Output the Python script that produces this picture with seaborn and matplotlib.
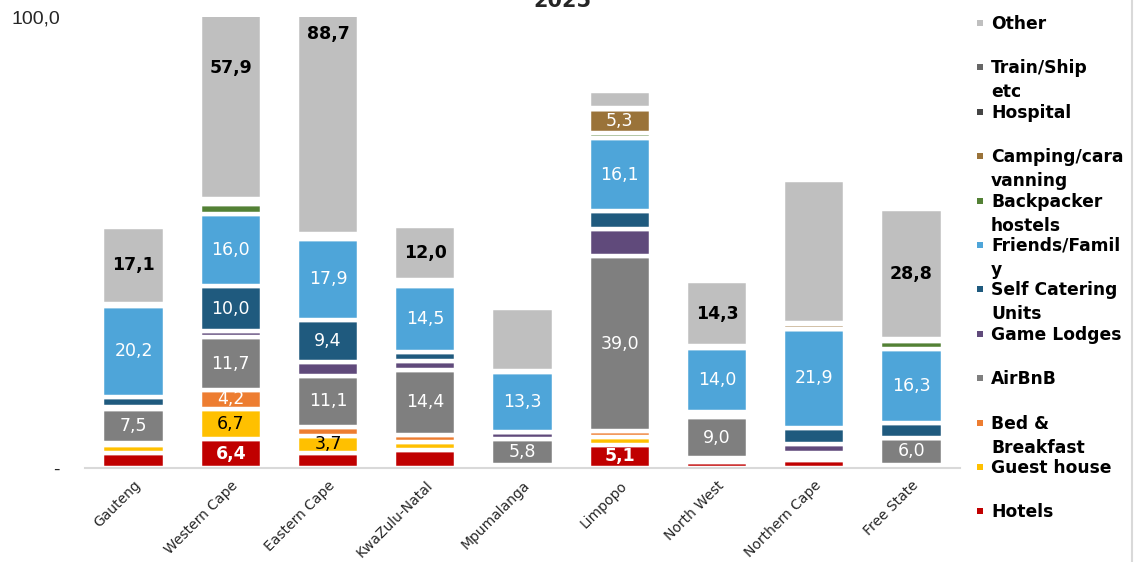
import numpy as np
import matplotlib
matplotlib.use("Agg")
import matplotlib.pyplot as plt
import matplotlib.transforms as mtransforms
from matplotlib.lines import Line2D
from matplotlib.patches import Rectangle
import seaborn as sns

# Provinces along the x axis
provinces = ["Gauteng", "Western Cape", "Eastern Cape", "KwaZulu-Natal", "Mpumalanga",
             "Limpopo", "North West", "Northern Cape", "Free State"]

# Accommodation types, stacked bottom to top
categories = ["Hotels", "Guest house", "Bed & Breakfast", "AirBnB", "Game Lodges",
              "Self Catering Units", "Friends/Family", "Backpacker hostels",
              "Camping/caravanning", "Hospital", "Train/Ship etc", "Other"]

# Share of trips per accommodation type (%), one value per province
hotels       = [3.4, 6.4, 3.4, 3.9, 0.4, 5.1, 1.3, 1.8, 0.4]
guest_house  = [1.6, 6.7, 3.7, 1.8, 0.3, 1.8, 0.5, 0.6, 0.3]
bed_bfast    = [0.6, 4.2, 2.1, 1.7, 0.0, 1.2, 0.4, 0.3, 0.0]
airbnb       = [7.5, 11.7, 11.1, 14.4, 5.8, 39.0, 9.0, 0.6, 6.0]
game_lodges  = [0.4, 1.3, 3.2, 2.0, 1.4, 6.0, 0.5, 2.0, 0.0]
self_cater   = [2.3, 10.0, 9.4, 2.0, 0.0, 3.9, 0.8, 3.6, 3.3]
friends_fam  = [20.2, 16.0, 17.9, 14.5, 13.3, 16.1, 14.0, 21.9, 16.3]
backpacker   = [0.2, 2.3, 0.5, 0.5, 0.2, 1.1, 0.3, 0.0, 1.9]
camping      = [0.2, 0.5, 0.3, 0.4, 0.0, 5.3, 0.2, 1.15, 0.3]
hospital     = [0.0, 0.3, 0.2, 0.2, 0.0, 0.2, 0.1, 0.2, 0.2]
train_ship   = [0.0, 0.3, 0.1, 0.2, 0.0, 0.1, 0.0, 0.1, 0.0]
other        = [17.1, 57.9, 88.7, 12.0, 14.1, 3.7, 14.3, 31.6, 28.8]

series = [hotels, guest_house, bed_bfast, airbnb, game_lodges, self_cater,
          friends_fam, backpacker, camping, hospital, train_ship, other]

colors = ["#C00000", "#FFC000", "#ED7D31", "#7F7F7F", "#604A7B", "#1F5A7E",
          "#4EA5D9", "#538135", "#9A7339", "#454545", "#666666", "#BFBFBF"]

# Legend text as it wraps in the side panel
legend_text = ["Hotels", "Guest house", "Bed &\nBreakfast", "AirBnB", "Game Lodges",
               "Self Catering\nUnits", "Friends/Famil\ny", "Backpacker\nhostels",
               "Camping/cara\nvanning", "Hospital", "Train/Ship\netc", "Other"]

# Segments that carry a value label
labelled = [
    ("Gauteng", "AirBnB"), ("Gauteng", "Friends/Family"), ("Gauteng", "Other"),
    ("Western Cape", "Hotels"), ("Western Cape", "Guest house"),
    ("Western Cape", "Bed & Breakfast"), ("Western Cape", "AirBnB"),
    ("Western Cape", "Self Catering Units"), ("Western Cape", "Friends/Family"),
    ("Western Cape", "Other"),
    ("Eastern Cape", "Guest house"), ("Eastern Cape", "AirBnB"),
    ("Eastern Cape", "Self Catering Units"), ("Eastern Cape", "Friends/Family"),
    ("Eastern Cape", "Other"),
    ("KwaZulu-Natal", "AirBnB"), ("KwaZulu-Natal", "Friends/Family"),
    ("KwaZulu-Natal", "Other"),
    ("Mpumalanga", "AirBnB"), ("Mpumalanga", "Friends/Family"),
    ("Limpopo", "Hotels"), ("Limpopo", "AirBnB"), ("Limpopo", "Friends/Family"),
    ("Limpopo", "Camping/caravanning"),
    ("North West", "AirBnB"), ("North West", "Friends/Family"), ("North West", "Other"),
    ("Northern Cape", "Friends/Family"),
    ("Free State", "AirBnB"), ("Free State", "Friends/Family"), ("Free State", "Other"),
]

label_style = {
    "Other": ("black", "bold"),
    "Hotels": ("white", "bold"),
    "Guest house": ("black", "normal"),
}

W, H = 1138, 562
sns.set_theme(style="white")
plt.rcParams["font.family"] = ["DejaVu Sans"]

fig = plt.figure(figsize=(W / 100, H / 100), dpi=100)
ax = fig.add_axes([85 / W, 1 - 468 / H, 875 / W, 451 / H])

bottom = np.zeros(len(provinces))
for name, vals, col in zip(categories, series, colors):
    vals = np.asarray(vals, dtype=float)
    sns.barplot(x=provinces, y=vals, bottom=bottom, color=col, saturation=1,
                width=0.642, edgecolor="white", linewidth=3.2, errorbar=None, ax=ax)
    txt_color, weight = label_style.get(name, ("white", "normal"))
    for i, prov in enumerate(provinces):
        if (prov, name) in labelled:
            ax.text(i, bottom[i] + vals[i] / 2, f"{vals[i]:.1f}".replace(".", ","),
                    ha="center", va="center", color=txt_color, fontweight=weight,
                    fontsize=12.5, clip_on=False, zorder=5)
    bottom = bottom + vals

ax.set_xlim(-0.5, len(provinces) - 0.5)
ax.set_ylim(0, 100)
for side in ["left", "right", "top"]:
    ax.spines[side].set_visible(False)
ax.spines["bottom"].set_color("#D9D9D9")
ax.spines["bottom"].set_linewidth(1.5)

ax.set_yticks([0, 100])
ax.set_yticklabels(["-", "100,0"], fontfamily="Liberation Sans", fontsize=14)
ax.tick_params(axis="y", length=0, pad=18)

ax.set_xticks(range(len(provinces)))
ax.set_xticklabels(provinces, rotation=45, ha="right", va="center",
                   rotation_mode="anchor", fontsize=10)
ax.tick_params(axis="x", length=0, pad=11)
shift = mtransforms.ScaledTranslation(5 / 100, 0, fig.dpi_scale_trans)
for lab in ax.get_xticklabels():
    lab.set_transform(lab.get_transform() + shift)
ax.set_xlabel("")
ax.set_ylabel("")

# Title sits above the frame
fig.text(562 / W, 1 - 7 / H, "2025", ha="center", va="baseline",
         fontsize=15, fontweight="bold")

# Side legend, top entry first
step = 44.4
for k, idx in enumerate(range(len(categories) - 1, -1, -1)):
    yc = 23 + k * step
    fig.add_artist(Rectangle((977 / W, 1 - (yc + 3) / H), 6 / W, 6 / H,
                             transform=fig.transFigure, color=colors[idx], lw=0))
    for j, line in enumerate(legend_text[idx].split("\n")):
        fig.text(991 / W, 1 - (yc + 1 + j * 24) / H, line, ha="left", va="center",
                 fontsize=12.3, fontweight="bold", color="black")

# Chart frame edge on the right
fig.add_artist(Line2D([1132 / W, 1132 / W], [0, 1], transform=fig.transFigure,
                      color="#D9D9D9", lw=1.5))

fig.savefig("out.png", dpi=100)
